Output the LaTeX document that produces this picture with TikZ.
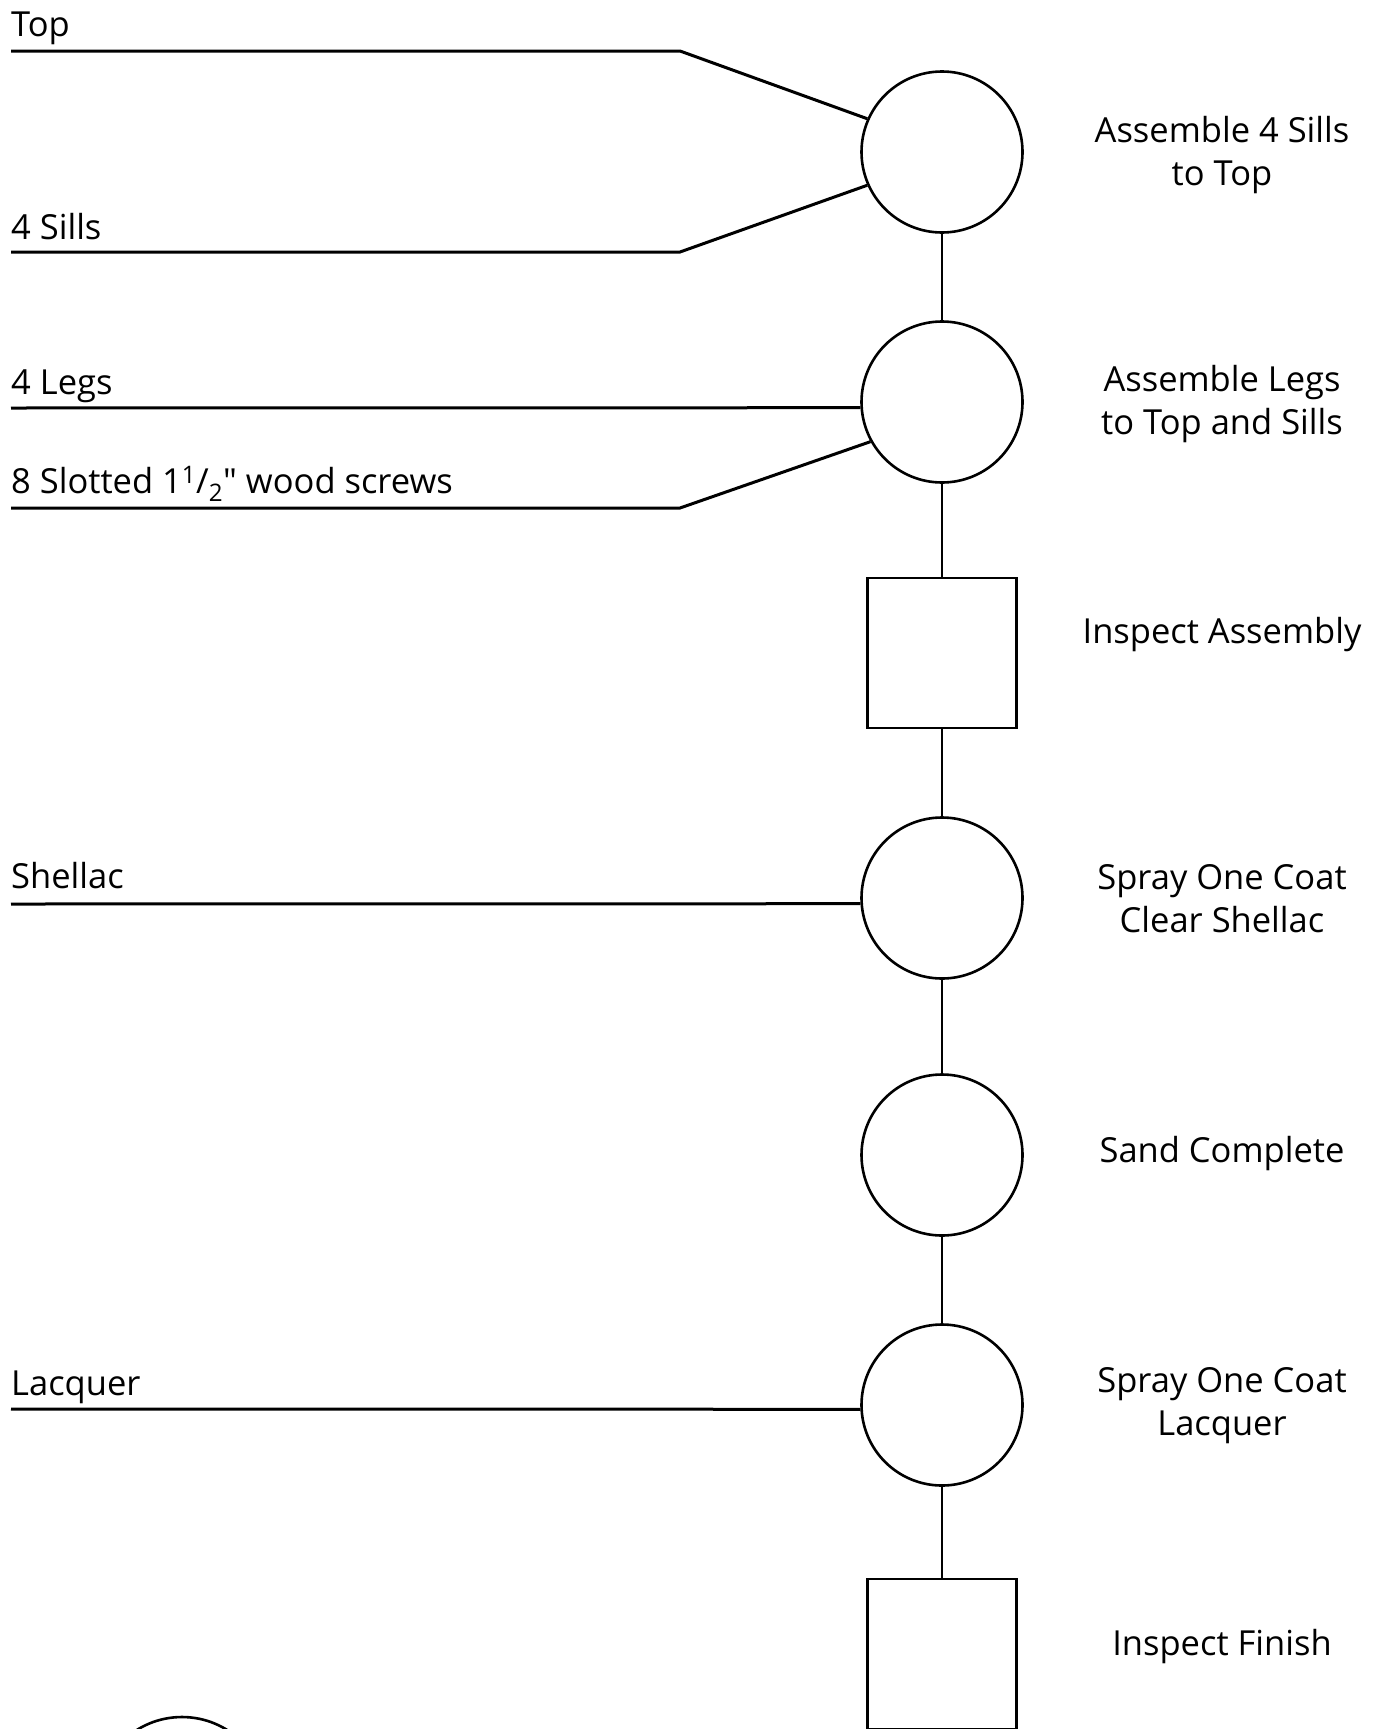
\documentclass[tikz,border=0pt]{standalone}
\usepackage{fontspec}
\setmainfont[Ligatures=TeXOff]{Open Sans}
\usetikzlibrary{shapes.geometric}
\begin{document}
\begin{tikzpicture}[x=1pt,y=-1pt,
  op/.style={circle, draw, line width=2.6pt, minimum size=161pt, inner sep=0pt},
  insp/.style={rectangle, draw, line width=2.6pt, minimum width=149pt, minimum height=150pt, inner sep=0pt},
  lbl/.style={font=\fontsize{34.5}{43}\selectfont, align=center, inner sep=0pt},
  inl/.style={font=\fontsize{34.5}{43}\selectfont, anchor=base west, inner sep=0pt},
  feed/.style={line width=3pt},
  flow/.style={line width=2.6pt}]
\useasboundingbox (0,0) rectangle (1378,1729);

% operations and inspections
\node[op] (c1) at (942,152) {};
\node[op] (c2) at (942,402) {};
\node[insp] (s1) at (942,653) {};
\node[op] (c3) at (942,898) {};
\node[op] (c4) at (942,1155) {};
\node[op] (c5) at (942,1405) {};
\node[insp] (s2) at (942,1654) {};

\begin{scope}
\clip (0,0) rectangle (1378,1729);
\node[circle, draw, line width=2.6pt, minimum size=170pt, inner sep=0pt] (c0) at (182,1802) {};
\end{scope}

% flow connectors
\draw[flow] (c1.south) -- (c2.north);
\draw[flow] (c2.south) -- (s1.north);
\draw[flow] (s1.south) -- (c3.north);
\draw[flow] (c3.south) -- (c4.north);
\draw[flow] (c4.south) -- (c5.north);
\draw[flow] (c5.south) -- (s2.north);

% incoming materials
\coordinate (topL) at (11,51);
\coordinate (topB) at (680,51);
\coordinate (sillL) at (11,252);
\coordinate (sillB) at (680,252);
\coordinate (legL) at (11,408);
\coordinate (scrL) at (11,508);
\coordinate (scrB) at (680,508);
\coordinate (shlL) at (11,904);
\coordinate (lacL) at (11,1409);

\draw[feed] (topL) -- (topB) -- (c1.156);
\draw[feed] (sillL) -- (sillB) -- (c1.204);
\draw[feed] (legL) -- (c2.184);
\draw[feed] (scrL) -- (scrB) -- (c2.209);
\draw[feed] (shlL) -- (c3.184);
\draw[feed] (lacL) -- (c5.183);

\node[inl] (tTop) at (11,36) {Top};
\node[inl] (tSill) at (11,239) {4 Sills};
\node[inl] (tLeg) at (11,394) {4 Legs};
\node[inl] (tScr) at (11,493) {8 Slotted 1\textsuperscript{1}/\textsubscript{2}" wood screws};
\node[inl] (tShl) at (11,888) {Shellac};
\node[inl] (tLac) at (11,1395) {Lacquer};

% step labels
\node[lbl] (l1) at (1222,155) {Assemble 4 Sills\\to Top};
\node[lbl] (l2) at (1222,404) {Assemble Legs\\to Top and Sills};
\node[lbl] (l3) at (1222,635) {Inspect Assembly};
\node[lbl] (l4) at (1222,899) {Spray One Coat\\Clear Shellac};
\node[lbl] (l5) at (1222,1154) {Sand Complete};
\node[lbl] (l6) at (1222,1406) {Spray One Coat\\Lacquer};
\node[lbl] (l7) at (1222,1647) {Inspect Finish};
\end{tikzpicture}
\end{document}
